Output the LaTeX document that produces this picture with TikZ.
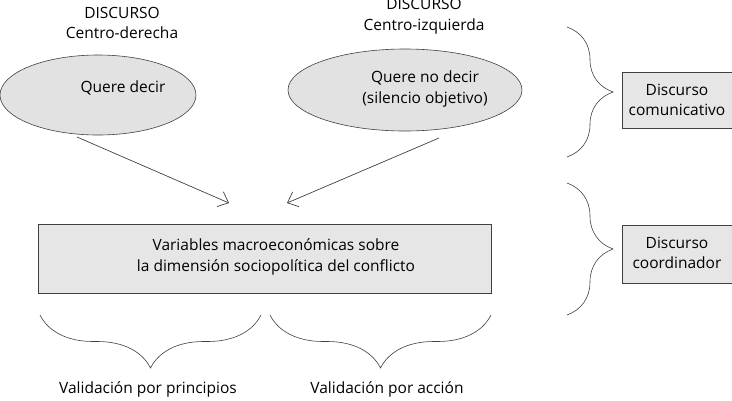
\documentclass[tikz,border=0pt]{standalone}
\usepackage{fontspec}
\setmainfont{Open Sans}
\usetikzlibrary{arrows.meta,decorations.pathreplacing,shapes.geometric}
\definecolor{boxfill}{HTML}{E6E6E6}
\definecolor{ellfill}{HTML}{E2E2E2}
\definecolor{linec}{HTML}{404040}
\tikzset{
  lbl/.style={font=\fontsize{15.5}{20.5}\selectfont, align=center, text=black, inner sep=0pt},
  ell/.style={ellipse, draw=linec, fill=ellfill, line width=0.6pt, inner sep=0pt, lbl},
  gbox/.style={rectangle, draw=linec, fill=boxfill, line width=0.8pt, inner sep=0pt, lbl},
  arr/.style={draw=linec, line width=0.7pt, -{Straight Barb[length=9pt,width=16pt]}},
  brc/.style={draw=linec, line width=0.6pt, decorate, decoration={brace, amplitude=#1}},
}
\begin{document}
\begin{tikzpicture}[x=1pt,y=-1pt]
\useasboundingbox (0,0) rectangle (732,400);
% titles
\node[lbl] (t1) at (122,23) {DISCURSO\\Centro-derecha};
\node[lbl] (t2) at (424,16) {DISCURSO\\Centro-izquierda};
% ellipses
\node[ell, minimum width=196pt, minimum height=80pt] (le) at (98,95) {};
\node[lbl] (letext) at (123,88) {Quere decir};
\node[ell, minimum width=234pt, minimum height=82pt] (re) at (405,90) {};
\node[lbl] (retext) at (425,89) {Quere no decir\\(silencio objetivo)};
% main box
\node[gbox, minimum width=453pt, minimum height=69pt] (mb) at (264.5,258.5) {};
\node[lbl] (mbtext) at (276,257) {Variables macroeconómicas sobre\\la dimensión sociopolítica del conflicto};
% arrows
\coordinate (a1s) at (77,137);
\coordinate (a1e) at (229,203);
\coordinate (a2s) at (439,138);
\coordinate (a2e) at (287,203);
\draw[arr] (a1s) -- (a1e);
\draw[arr] (a2s) -- (a2e);
% right boxes
\node[gbox, minimum width=110pt, minimum height=56pt] (dc) at (677,100) {};
\node[lbl] (dctext) at (677,100) {Discurso\\comunicativo};
\node[gbox, minimum width=110pt, minimum height=58pt] (dd) at (677,254) {};
\node[lbl] (ddtext) at (677,253) {Discurso\\coordinador};
% right braces
\coordinate (b1a) at (567,27);
\coordinate (b1b) at (567,157);
\coordinate (b2a) at (567,183);
\coordinate (b2b) at (567,315);
\draw[brc=46pt] (b1a) -- (b1b);
\draw[brc=46pt] (b2a) -- (b2b);
% bottom braces
\coordinate (b3a) at (40,315);
\coordinate (b3b) at (261,315);
\coordinate (b4a) at (270,315);
\coordinate (b4b) at (491,315);
\draw[brc=53pt] (b3b) -- (b3a);
\draw[brc=53pt] (b4b) -- (b4a);
% bottom labels
\node[lbl] (v1) at (148,389) {Validación por principios};
\node[lbl] (v2) at (387,389) {Validación por acción};
\end{tikzpicture}
\end{document}
